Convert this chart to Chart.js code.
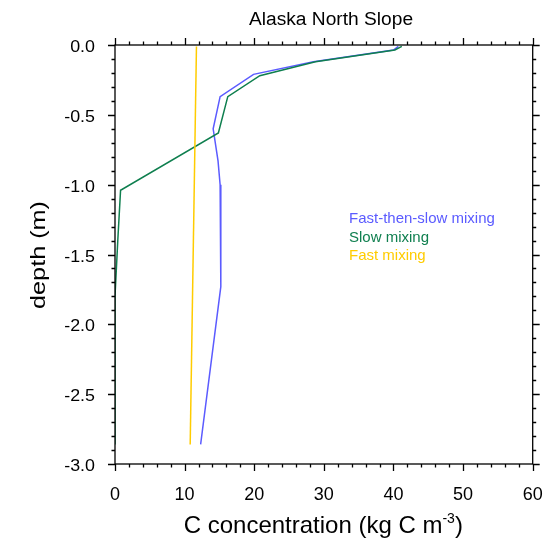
<!DOCTYPE html>
<html><head><meta charset="utf-8">
<script src="https://cdn.jsdelivr.net/npm/chart.js@4.4.0/dist/chart.umd.min.js"></script>
<style>html,body{margin:0;padding:0;background:#fff}#wrap{width:559px;height:540px}</style>
</head><body><div id="wrap"><canvas id="c" width="559" height="540"></canvas></div>
<script>
const chartTitle = "Alaska North Slope";
const seriesNames = ["Fast-then-slow mixing", "Slow mixing", "Fast mixing"];
const seriesColors = ["#5b5bff", "#0f7f4f", "#ffcc00"];
const fastSlowC = [40.7, 40.0, 28.5, 19.9, 15.1, 14.1, 14.8, 15.1, 15.2, 12.3];
const fastSlowDepth = [-0.01, -0.036, -0.12, -0.21, -0.37, -0.60, -0.83, -1.0, -1.73, -2.86];
const slowC = [41.2, 40.2, 28.8, 20.8, 16.2, 14.85, 0.8, 0.4, 0.0, 0.0];
const slowDepth = [-0.01, -0.036, -0.12, -0.22, -0.37, -0.63, -1.04, -1.4, -1.8, -2.86];
const fastC = [11.7, 10.8];
const fastDepth = [-0.01, -2.86];
const xTicks = [0, 10, 20, 30, 40, 50, 60];
const yTicks = [0, -0.5, -1, -1.5, -2, -2.5, -3];

const FONT = "'Liberation Sans', Arial, Helvetica, sans-serif";
function pts(xs, ys){ return xs.map((x,i)=>({x:x, y:ys[i]})); }

function stretchText(ctx, text, x, y, sx, align){
  ctx.save();
  ctx.translate(x, y);
  ctx.scale(sx, 1);
  ctx.textAlign = align;
  ctx.fillText(text, 0, 0);
  ctx.restore();
}

const decor = {
  id: 'decor',
  afterDraw(chart){
    const ctx = chart.ctx, a = chart.chartArea;
    const xs = chart.scales.x, ys = chart.scales.y;
    ctx.save();
    ctx.strokeStyle = '#000'; ctx.lineWidth = 1.3;
    ctx.strokeRect(a.left, a.top, a.right-a.left, a.bottom-a.top);
    ctx.beginPath();
    for (let v = 0; v <= 60.001; v += 2) {
      const px = Math.round(xs.getPixelForValue(v)) + 0.5;
      const L = (Math.abs(v % 10) < 1e-6) ? 7 : 3.5;
      ctx.moveTo(px, a.bottom); ctx.lineTo(px, a.bottom + L);
      ctx.moveTo(px, a.top); ctx.lineTo(px, a.top - L);
    }
    for (let i = 0; i <= 30; i++) {
      const v = -i/10;
      const py = Math.round(ys.getPixelForValue(v)) + 0.5;
      const L = (i % 5 === 0) ? 7 : 3.5;
      ctx.moveTo(a.left, py); ctx.lineTo(a.left - L, py);
      ctx.moveTo(a.right, py); ctx.lineTo(a.right + L, py);
    }
    ctx.stroke();
    ctx.fillStyle = '#000';
    ctx.textBaseline = 'alphabetic';
    // tick labels
    ctx.font = '18px ' + FONT;
    xTicks.forEach(v => { stretchText(ctx, String(v), xs.getPixelForValue(v), 499.5, 1, 'center'); });
    ctx.font = '17px ' + FONT;
    yTicks.forEach(v => { stretchText(ctx, v.toFixed(1), 95, ys.getPixelForValue(v) + 7, 1.05, 'right'); });
    // title
    ctx.font = '18px ' + FONT;
    stretchText(ctx, chartTitle, 331, 25, 1.065, 'center');
    // y title
    ctx.save();
    ctx.translate(45, 255);
    ctx.rotate(-Math.PI/2);
    ctx.font = '21px ' + FONT;
    stretchText(ctx, 'depth (m)', 0, 0, 1.2, 'center');
    ctx.restore();
    // x title with superscript
    ctx.font = '24px ' + FONT;
    const p1 = 'C concentration (kg C m', sup = '-3', p3 = ')';
    const w1 = ctx.measureText(p1).width, w3 = ctx.measureText(p3).width;
    ctx.font = '14px ' + FONT;
    const w2 = ctx.measureText(sup).width;
    const total = w1 + w2 + w3;
    let x0 = 323.3 - total/2;
    const yb = 533;
    ctx.textAlign = 'left';
    ctx.font = '24px ' + FONT;
    ctx.fillText(p1, x0, yb);
    ctx.font = '14px ' + FONT;
    ctx.fillText(sup, x0 + w1, yb - 10);
    ctx.font = '24px ' + FONT;
    ctx.fillText(p3, x0 + w1 + w2, yb);
    // legend text
    ctx.font = '15px ' + FONT;
    const ly = [223.3, 241.6, 259.9];
    seriesNames.forEach((n,i)=>{ ctx.fillStyle = seriesColors[i]; ctx.fillText(n, 349, ly[i]); });
    ctx.restore();
  }
};

new Chart(document.getElementById('c'), {
  type: 'scatter',
  data: {
    datasets: [
      {label: seriesNames[2], data: pts(fastC, fastDepth), borderColor: seriesColors[2]},
      {label: seriesNames[1], data: pts(slowC, slowDepth), borderColor: seriesColors[1]},
      {label: seriesNames[0], data: pts(fastSlowC, fastSlowDepth), borderColor: seriesColors[0]}
    ].map(d => Object.assign(d, {showLine: true, pointRadius: 0, borderWidth: 1.5, fill: false, tension: 0}))
  },
  options: {
    responsive: false, animation: false,
    layout: {padding: {left: 0, right: 26.3, top: 45, bottom: 0}},
    plugins: {legend: {display: false}, title: {display: false}, tooltip: {enabled: false}},
    scales: {
      x: {
        type: 'linear', min: 0, max: 60,
        afterFit(s){ s.height = 76; },
        afterBuildTicks(s){ s.ticks = xTicks.map(v => ({value: v})); },
        grid: {display: false}, border: {display: false},
        ticks: {display: false}
      },
      y: {
        type: 'linear', min: -3, max: 0,
        afterFit(s){ s.width = 115; },
        afterBuildTicks(s){ s.ticks = yTicks.map(v => ({value: v})); },
        grid: {display: false}, border: {display: false},
        ticks: {display: false}
      }
    }
  },
  plugins: [decor]
});
</script></body></html>
